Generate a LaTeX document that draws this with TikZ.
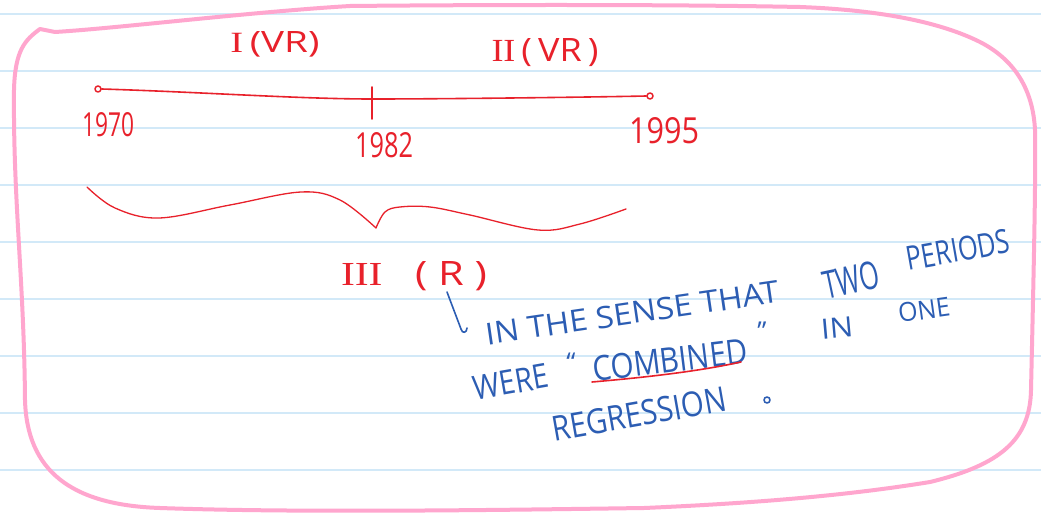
\documentclass[tikz,border=0pt]{standalone}
\usepackage{fontspec}
\setmainfont{Open Sans}
\newfontfamily\numfont{Liberation Serif}
\definecolor{ink}{HTML}{E8212B}
\definecolor{pen}{HTML}{2C5DB3}
\definecolor{frame}{HTML}{FFA6CE}
\definecolor{rulecol}{HTML}{D2E9F8}
\newcommand\fitt[3]{\resizebox{#1}{#2}{#3}}
\newcommand\qmark[1]{\raisebox{-12pt}[7pt][0pt]{\fontsize{26pt}{26pt}\selectfont #1}}
\begin{document}
\begin{tikzpicture}[x=1pt,y=-1pt,line cap=round,line join=round,
  redtext/.style={text=ink,inner sep=0pt},
  bluetext/.style={text=pen,inner sep=0pt},
  redpen/.style={draw=ink,line width=1.6pt},
  bluepen/.style={draw=pen,line width=1.6pt},
  endpoint/.style={circle,draw=ink,line width=1.5pt,minimum size=6pt,inner sep=0pt},
  framepen/.style={draw=frame,line width=4pt}]
\useasboundingbox (0,0) rectangle (1041,513);
\fill[white] (0,0) rectangle (1041,513);
\foreach \yy in {14,71,...,470} \draw[rulecol,line width=1.4pt] (0,\yy) -- (1041,\yy);

% pink frame
\draw[framepen] (40,29) .. controls (25,40) and (15,50) .. (14,90)
  .. controls (13,200) and (24,280) .. (25,400)
  .. controls (27,470) and (70,505) .. (160,508)
  .. controls (300,513) and (500,510) .. (644,508)
  .. controls (760,503) and (850,495) .. (930,482)
  .. controls (1000,465) and (1030,440) .. (1031,390)
  .. controls (1033,300) and (1036,180) .. (1035,130)
  .. controls (1033,90) and (1015,60) .. (980,42)
  .. controls (940,22) and (880,10) .. (800,7)
  .. controls (650,4) and (450,5) .. (350,6)
  .. controls (250,12) and (120,28) .. (55,32)
  -- (40,29);

% timeline
\node[endpoint] (t0) at (98,89) {};
\node[endpoint] (t2) at (650,96) {};
\coordinate (t1) at (372,99);
\coordinate (tickTop) at (372,87);
\coordinate (tickBot) at (372,119);
\draw[redpen] (t0.east) .. controls (200,92) and (300,99) .. (t1)
  .. controls (450,99) and (600,97) .. (t2.west);
\draw[redpen] (tickTop) -- (tickBot);

\node[redtext] (lab1) at (275,44) {\fitt{89pt}{21pt}{{\numfont I}\,(VR)}};
\node[redtext] (lab2) at (545,53) {\fitt{107pt}{23pt}{{\numfont II}\,(\,VR\,)}};
\node[redtext] (y1970) at (108,125) {\fitt{52pt}{24pt}{1970}};
\node[redtext] (y1982) at (384,145) {\fitt{58pt}{25pt}{1982}};
\node[redtext] (y1995) at (664,131) {\fitt{70pt}{26pt}{1995}};

% wave brace
\draw[redpen,line width=1.3pt] plot[smooth,tension=0.6] coordinates
  {(87,187) (115,208) (159,218) (230,205) (301,192) (340,200) (376,228)};
\draw[redpen,line width=1.3pt] plot[smooth,tension=0.6] coordinates
  {(376,228) (385,212) (400,207) (430,207) (470,215) (538,230) (580,224) (626,209)};

\node[redtext] (lab3) at (414,276) {\fitt{146pt}{24pt}{{\numfont III}\ \ \ ( R )}};

% blue note
\coordinate (a1) at (447,292);
\coordinate (a2) at (461,329);
\draw[bluepen] (a1) -- (a2) .. controls (462,334) and (467,333) .. (467,328);

\node[bluetext,rotate=8.3] (s1) at (632,313) {\fitt{296pt}{22pt}{IN THE SENSE THAT}};
\node[bluetext,rotate=12] (s2) at (851,280) {\fitt{57pt}{28pt}{TWO}};
\node[bluetext,rotate=10] (s3) at (958,250) {\fitt{105pt}{24pt}{PERIODS}};
\node[bluetext,rotate=10] (s4) at (511,382) {\fitt{76pt}{24pt}{WERE}};
\node[bluetext] (q1) at (571,356) {\qmark{“}};
\node[bluetext,rotate=7] (s5) at (670,360) {\fitt{156pt}{25pt}{COMBINED}};
\draw[redpen] (592,382) .. controls (650,377) and (700,371) .. (741,362);
\node[bluetext] (q2) at (762,325) {\qmark{”}};
\node[bluetext,rotate=5] (s6) at (837,328) {\fitt{32pt}{20pt}{IN}};
\node[bluetext,rotate=8] (s7) at (924,310) {\fitt{52pt}{19pt}{ONE}};
\node[bluetext,rotate=10] (s8) at (639,414) {\fitt{176pt}{25pt}{REGRESSION}};
\draw[bluepen] (767,400) circle (3pt);
\end{tikzpicture}
\end{document}
